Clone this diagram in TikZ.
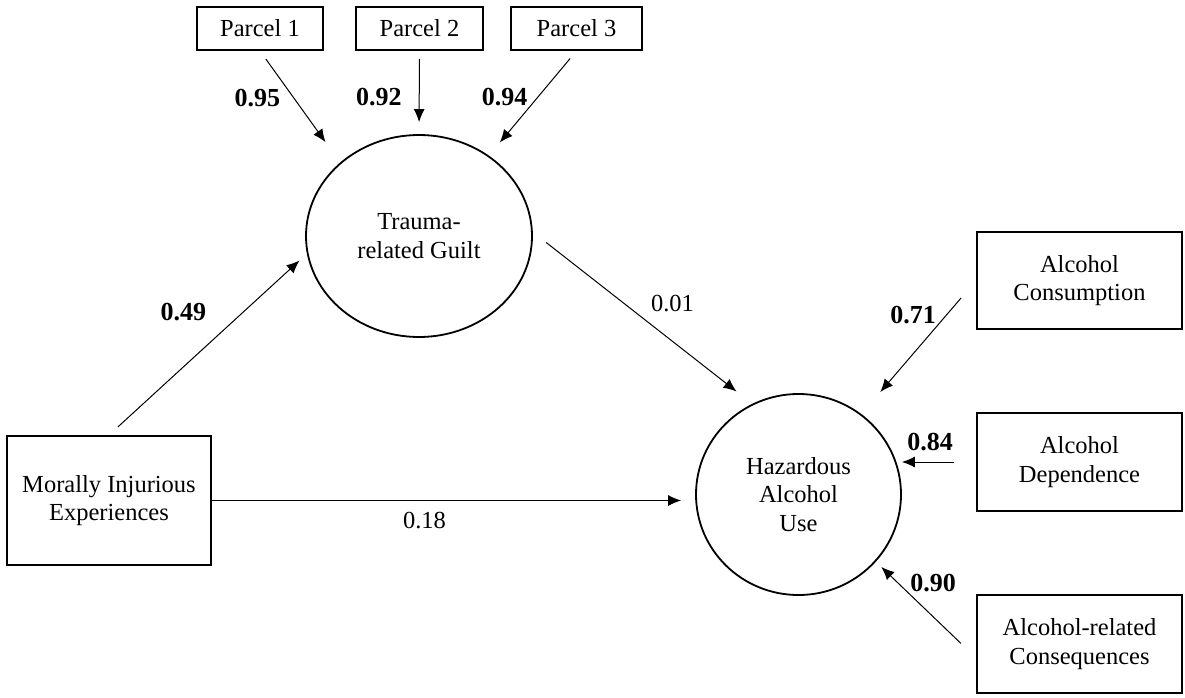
\documentclass[tikz,border=0pt]{standalone}
\usepackage{fontspec}
\setmainfont{Liberation Serif}
\usepackage{tikz}
\usetikzlibrary{arrows.meta,shapes.geometric}

\begin{document}
\begin{tikzpicture}[x=1pt, y=-1pt,
  every node/.style={font=\fontsize{24.5}{28.5}\selectfont, align=center, inner sep=0pt},
  ind/.style={draw, line width=1.8pt, minimum width=205pt, minimum height=98pt},
  lat/.style={draw, ellipse, line width=1.8pt},
  arr/.style={-{Latex[length=13pt,width=11pt]}, line width=1pt},
  coef/.style={font=\fontsize{26}{30}\selectfont\bfseries}]
\useasboundingbox (0,0) rectangle (1185,698);
%--- indicatori del senso di colpa ---
\node[ind, minimum width=126pt, minimum height=43pt] (p1) at (260,28.5) {Parcel 1};
\node[ind, minimum width=127pt, minimum height=43pt] (p2) at (419.5,28.5) {Parcel 2};
\node[ind, minimum width=131pt, minimum height=43pt] (p3) at (576.5,28.5) {Parcel 3};
%--- variabili latenti ---
\node[lat, minimum width=226pt, minimum height=202pt] (guilt) at (419,236) {Trauma-\\related Guilt};
\node[lat, minimum width=205pt, minimum height=201pt] (hau) at (798.5,494.5) {Hazardous\\Alcohol\\Use};
%--- predittore ---
\node[ind, minimum width=204pt, minimum height=129pt] (mie) at (109,500.5) {Morally Injurious\\Experiences};
%--- indicatori uso di alcol ---
\node[ind, minimum height=97pt] (con) at (1079.5,280.5) {Alcohol\\Consumption};
\node[ind] (dep) at (1079.5,462) {Alcohol\\Dependence};
\node[ind] (csq) at (1079.5,644) {Alcohol-related\\Consequences};
% saturazioni
\draw[arr, shorten <=10pt, shorten >=25pt] (p1.south) -- (guilt.137) node[pos=0.42, left=13pt, coef]{0.95};
\draw[arr, shorten <=8pt, shorten >=12pt] (p2.south) -- (guilt.north) node[pos=0.55, left=17pt, coef]{0.92};
\draw[arr, shorten <=10pt, shorten >=17pt] (p3.south) -- (guilt.49) node[pos=0.44, left=10pt, coef]{0.94};
% percorsi strutturali
\draw[arr, shorten <=12pt, shorten >=10pt] (mie.north) -- (guilt.189) node[pos=0.68, left=37pt, coef]{0.49};
\draw[arr, shorten <=17pt, shorten >=20pt] (guilt.2) -- (hau.117) node[pos=0.5, anchor=south west, xshift=8pt, yshift=6pt]{0.01};
\draw[arr, shorten >=14pt] (mie.east) -- (mie.east -| hau.west) node[pos=0.44, below=11pt]{0.18};
% saturazioni uso di alcol
\draw[arr, shorten <=23pt, shorten >=29pt] (con.west) -- (hau.52) node[pos=0.26, left=10pt, coef]{0.71};
\draw[arr, shorten <=22pt] (dep.west) -- (dep.west -| hau.east) node[pos=0.62, above=11pt, coef]{0.84};
\draw[arr, shorten <=21pt, shorten >=7.5pt] ([yshift=-14pt]csq.west) -- (hau.-41) node[pos=0.78, right=12pt, coef]{0.90};
\end{tikzpicture}
\end{document}
